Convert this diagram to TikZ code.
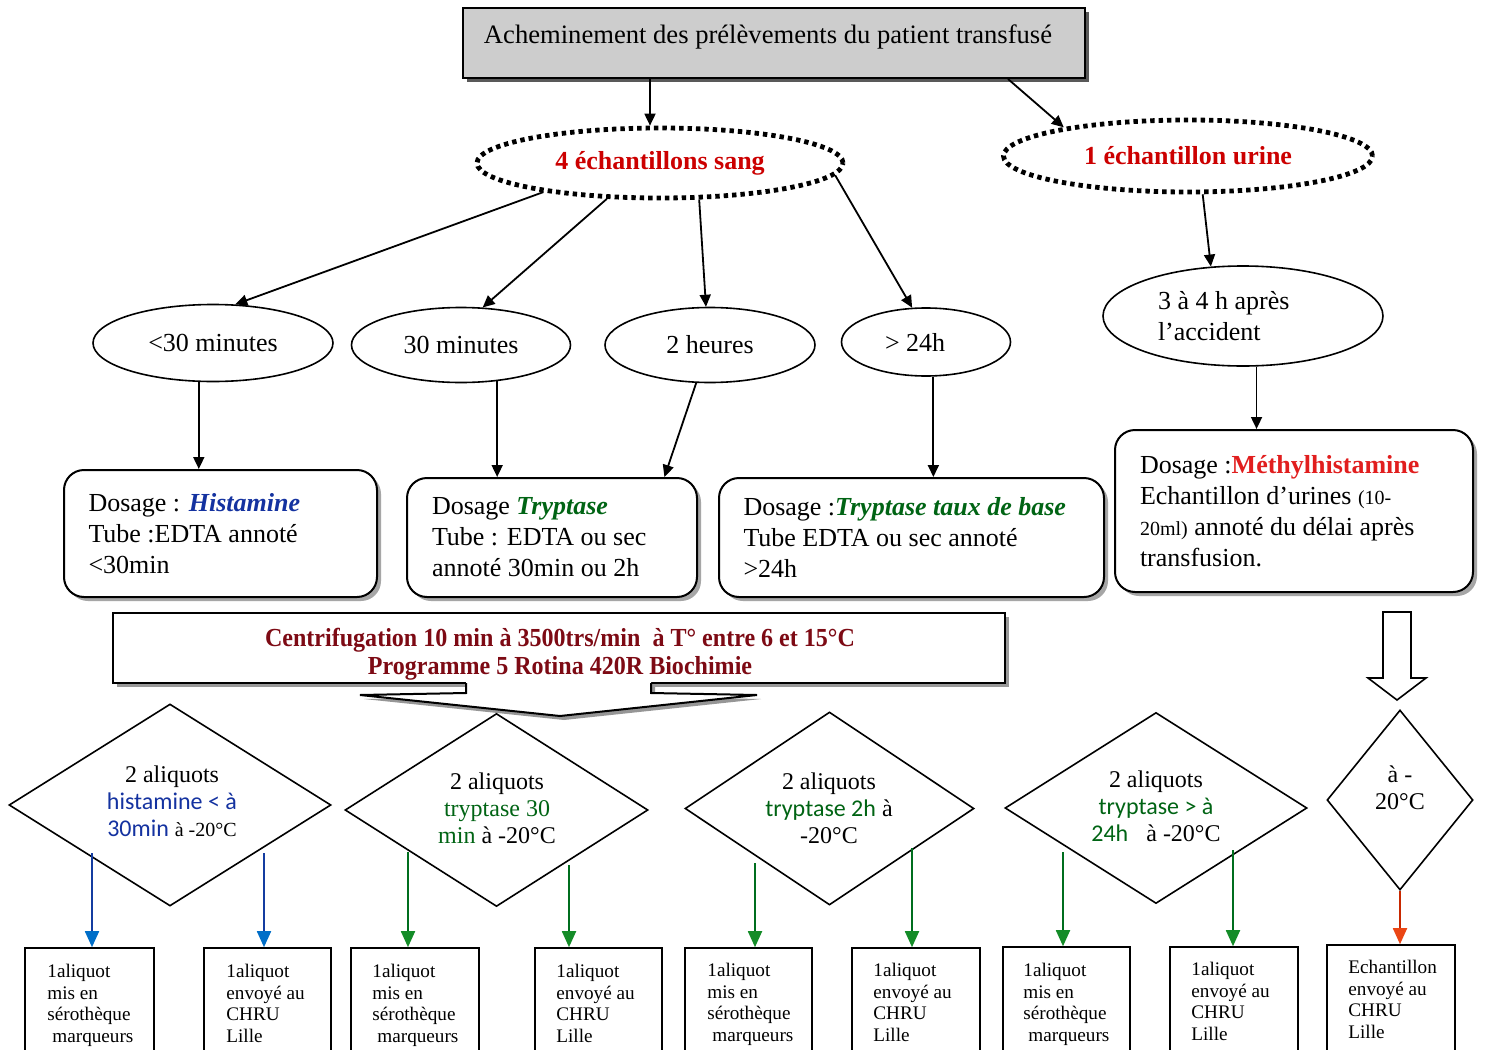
\documentclass[tikz,border=0pt]{standalone}
\usepackage{fontspec}
\setmainfont{Liberation Serif}
\newfontfamily\calib{Carlito}
\usetikzlibrary{shapes.geometric,arrows.meta,shadows,calc}
\definecolor{sangred}{RGB}{204,0,0}
\definecolor{methred}{RGB}{225,30,30}
\definecolor{centred}{RGB}{125,10,20}
\definecolor{histblue}{RGB}{20,50,160}
\definecolor{tryg}{RGB}{0,100,20}
\definecolor{lineblue}{RGB}{20,60,160}
\definecolor{tipblue}{RGB}{0,110,200}
\definecolor{lineg}{RGB}{0,110,30}
\definecolor{tipg}{RGB}{20,140,40}
\definecolor{linered}{RGB}{200,40,0}
\definecolor{tipred}{RGB}{235,70,20}
\definecolor{titlegray}{RGB}{205,205,205}
\definecolor{shadowgray}{RGB}{150,150,150}
\begin{document}
\begin{tikzpicture}[x=0.5pt,y=-0.5pt,
  conn/.style={line width=0.9pt,-{Triangle[length=6pt,width=5.5pt]}},
  carrow/.style 2 args={line width=0.9pt,draw=#1,-{Triangle[length=8pt,width=7pt,color=#2]}},
  titlebox/.style={draw,line width=1pt,fill=titlegray,drop shadow={shadow xshift=2pt,shadow yshift=-2pt,fill=black!65,opacity=1}},
  dotell/.style={ellipse,draw,line width=2.4pt,dash pattern=on 2.2pt off 2pt,inner sep=0pt,font=\fontsize{13}{15.5}\selectfont\bfseries,text=sangred},
  ell/.style={ellipse,draw,line width=0.8pt,inner sep=0pt,font=\fontsize{13}{15.5}\selectfont},
  rbox/.style={draw,line width=1pt,rounded corners=10pt,fill=white,drop shadow={shadow xshift=2pt,shadow yshift=-2pt,fill=black!35,opacity=1},align=flush left,inner xsep=12pt,inner ysep=0pt,font=\fontsize{13}{15.5}\selectfont},
  centbox/.style={draw,line width=1pt,fill=white,drop shadow={shadow xshift=2pt,shadow yshift=-2pt,fill=black!40,opacity=1}},
  dia/.style={diamond,draw,line width=0.8pt,inner sep=0pt},
  diat/.style={align=center,inner sep=0pt,font=\fontsize{12}{13.5}\selectfont},
  bbox/.style={draw,line width=0.8pt,inner sep=0pt,minimum height=61pt},
  bt/.style={anchor=north west,align=left,inner sep=0pt,font=\fontsize{9.6}{10.75}\selectfont}]
\clip (0,0) rectangle (1485,1050);
\fill[white] (0,0) rectangle (1485,1050);

% title
\node[titlebox,minimum width=311pt,minimum height=35pt] (top) at (774,43) {};
\node[inner sep=0pt,font=\fontsize{13.3}{15}\selectfont] (toptxt) at (768,37) {Acheminement des prélèvements du patient transfusé};

% sample ellipses
\node[dotell,minimum width=183pt,minimum height=35pt] (sang) at (660,163) {4 échantillons sang};
\node[dotell,minimum width=184.5pt,minimum height=36pt] (urine) at (1188,156) {1 échantillon urine};

% delay ellipses
\node[ell,minimum width=120pt,minimum height=38.5pt] (e1) at (213,343) {<30 minutes};
\node[ell,minimum width=109.5pt,minimum height=37.5pt] (e2) at (461,345) {30 minutes};
\node[ell,minimum width=105pt,minimum height=37.5pt] (e3) at (710,345) {2 heures};
\node[ell,minimum width=84.5pt,minimum height=34pt,text width=41pt,align=flush left] (e4) at (926,342) {> 24h};
\node[ell,minimum width=140pt,minimum height=50pt,text width=85pt,align=flush left] (e5) at (1243,316) {3 à 4 h après\\l’accident};

% dosage boxes
\node[rbox,minimum width=156.5pt,minimum height=63.5pt,text width=132pt] (hist) at (220.5,533.5)
  {Dosage : \textcolor{histblue}{\bfseries\itshape Histamine}\\Tube :EDTA annoté\\<30min};
\node[rbox,minimum width=145pt,minimum height=59.5pt,text width=120pt] (trp) at (552,537.5)
  {Dosage \textcolor{tryg}{\bfseries\itshape Tryptase}\\Tube : EDTA ou sec\\annoté 30min ou 2h};
\node[rbox,minimum width=192.5pt,minimum height=59.5pt,text width=168pt] (base) at (911.5,537.5)
  {Dosage :\textcolor{tryg}{\bfseries\itshape Tryptase taux de base}\\Tube EDTA ou sec annoté\\>24h};
\node[rbox,minimum width=179pt,minimum height=81pt,text width=154pt] (meth) at (1294,511)
  {Dosage :\textcolor{methred}{\bfseries Méthylhistamine}\\Echantillon d’urines {\fontsize{10}{12}\selectfont(10-}\\{\fontsize{10}{12}\selectfont 20ml)} annoté du délai après\\transfusion.};

% top connectors
\draw[conn] (top.south -| sang.105) -- (sang.105);
\draw[conn] ($(top.south east)!0.125!(top.south west)$) -- (urine.167);
\draw[conn] (sang.194) -- (e1.60);
\draw[conn] (sang.214) -- (e2.60);
\draw[conn] (sang.317) -- (e3.96);
\draw[conn] (sang.356) -- (e4.112);
\draw[conn] (urine.291) -- (e5.123);
\draw[conn] (e1.250) -- (e1.250 |- hist.north);
\draw[conn] (e2.315) -- (e2.315 |- trp.north);
\draw[conn] (e3.250) -- ($(trp.north)!0.77!(trp.north east)$);
\draw[conn] (e4.282) -- (e4.282 |- base.north);
\draw[conn] (e5.285) -- (e5.285 |- meth.north);

% centrifugation callout
\node[centbox,minimum width=446pt,minimum height=35pt] (cent) at (559,648) {};
\fill[shadowgray] (470,687) -- (470,697) -- (364,699) -- (564,720) -- (761,699) -- (655,697) -- (655,687) -- cycle;
\fill[white] (466,681) -- (466,693) -- (360,695) -- (560,716) -- (757,695) -- (651,693) -- (651,681) -- cycle;
\draw[line width=1pt] (466,683) -- (466,693) -- (360,695) -- (560,716) -- (757,695) -- (651,693) -- (651,683);
\node[inner sep=0pt,align=center,text=centred,font=\fontsize{13}{14}\selectfont\bfseries] (centtxt) at (560,654)
  {\scalebox{0.925}[1]{Centrifugation 10 min à 3500trs/min\ \ à T° entre 6 et 15°C}\\\scalebox{0.925}[1]{Programme 5 Rotina 420R Biochimie}};

% hollow block arrow for urine
\draw[line width=0.8pt,fill=white] (1383,612) -- (1411,612) -- (1411,678) -- (1426,678) -- (1397,700) -- (1368,678) -- (1383,678) -- cycle;

% diamonds
\node[dia,minimum width=161pt,minimum height=101pt] (d1) at (170,805) {};
\node[dia,minimum width=151.5pt,minimum height=96.5pt] (d2) at (496.5,810) {};
\node[dia,minimum width=144.5pt,minimum height=96.5pt] (d3) at (829.5,808.5) {};
\node[dia,minimum width=151pt,minimum height=95.5pt] (d4) at (1156,808) {};
\node[dia,minimum width=73pt,minimum height=90pt] (d5) at (1400,800) {};

\node[diat] (d1t) at (172,801.5) {2 aliquots\\{\calib\color{histblue}histamine < à}\\{\calib\color{histblue}30min} {\fontsize{10}{12}\selectfont à -20°C}};
\node[diat] (d2t) at (497,808.5) {2 aliquots\\{\color{tryg}tryptase 30}\\{\color{tryg}min} à -20°C};
\node[diat] (d3t) at (829,808.5) {2 aliquots\\{\calib\color{tryg}tryptase 2h} à\\-20°C};
\node[diat] (d4t) at (1156,806.5) {2 aliquots\\{\calib\color{tryg}tryptase > à}\\{\calib\color{tryg}24h}\ \ \ à -20°C};
\node[diat] (d5t) at (1400,788) {à -\\20°C};

% bottom boxes
\node[bbox,minimum width=64.5pt] (b1) at (89.5,1009) {};
\node[bbox,minimum width=63.5pt] (b2) at (267.5,1009) {};
\node[bbox,minimum width=64pt] (b3) at (415,1009) {};
\node[bbox,minimum width=63.5pt] (b4) at (598.5,1009) {};
\node[bbox,minimum width=63.5pt] (b5) at (748.5,1009) {};
\node[bbox,minimum width=64pt] (b6) at (916,1009) {};
\node[bbox,minimum width=63.5pt] (b7) at (1066.5,1008) {};
\node[bbox,minimum width=64pt] (b8) at (1234,1008) {};
\node[bbox,minimum width=64pt] (b9) at (1391,1006) {};

\node[bt] (t1) at (47,964) {1aliquot\\mis en\\sérothèque\\\hspace{2.5pt}marqueurs};
\node[bt] (t2) at (226,964) {1aliquot\\envoyé au\\CHRU\\Lille};
\node[bt] (t3) at (372,964) {1aliquot\\mis en\\sérothèque\\\hspace{2.5pt}marqueurs};
\node[bt] (t4) at (556,964) {1aliquot\\envoyé au\\CHRU\\Lille};
\node[bt] (t5) at (707,963) {1aliquot\\mis en\\sérothèque\\\hspace{2.5pt}marqueurs};
\node[bt] (t6) at (873,963) {1aliquot\\envoyé au\\CHRU\\Lille};
\node[bt] (t7) at (1023,963) {1aliquot\\mis en\\sérothèque\\\hspace{2.5pt}marqueurs};
\node[bt] (t8) at (1191,962) {1aliquot\\envoyé au\\CHRU\\Lille};
\node[bt] (t9) at (1348,960) {Echantillon\\envoyé au\\CHRU\\Lille};

% aliquot arrows
\coordinate (a1) at (92,853);
\coordinate (a2) at (264,853);
\coordinate (a3) at (408,852);
\coordinate (a4) at (569,865);
\coordinate (a5) at (755,863);
\coordinate (a6) at (912,848);
\coordinate (a7) at (1063,852);
\coordinate (a8) at (1233,850);
\draw[carrow={lineblue}{tipblue}] (a1) -- (a1 |- b1.north);
\draw[carrow={lineblue}{tipblue}] (a2) -- (a2 |- b2.north);
\draw[carrow={lineg}{tipg}] (a3) -- (a3 |- b3.north);
\draw[carrow={lineg}{tipg}] (a4) -- (a4 |- b4.north);
\draw[carrow={lineg}{tipg}] (a5) -- (a5 |- b5.north);
\draw[carrow={lineg}{tipg}] (a6) -- (a6 |- b6.north);
\draw[carrow={lineg}{tipg}] (a7) -- (a7 |- b7.north);
\draw[carrow={lineg}{tipg}] (a8) -- (a8 |- b8.north);
\draw[carrow={linered}{tipred}] (d5.south) -- (d5.south |- b9.north);
\end{tikzpicture}
\end{document}
